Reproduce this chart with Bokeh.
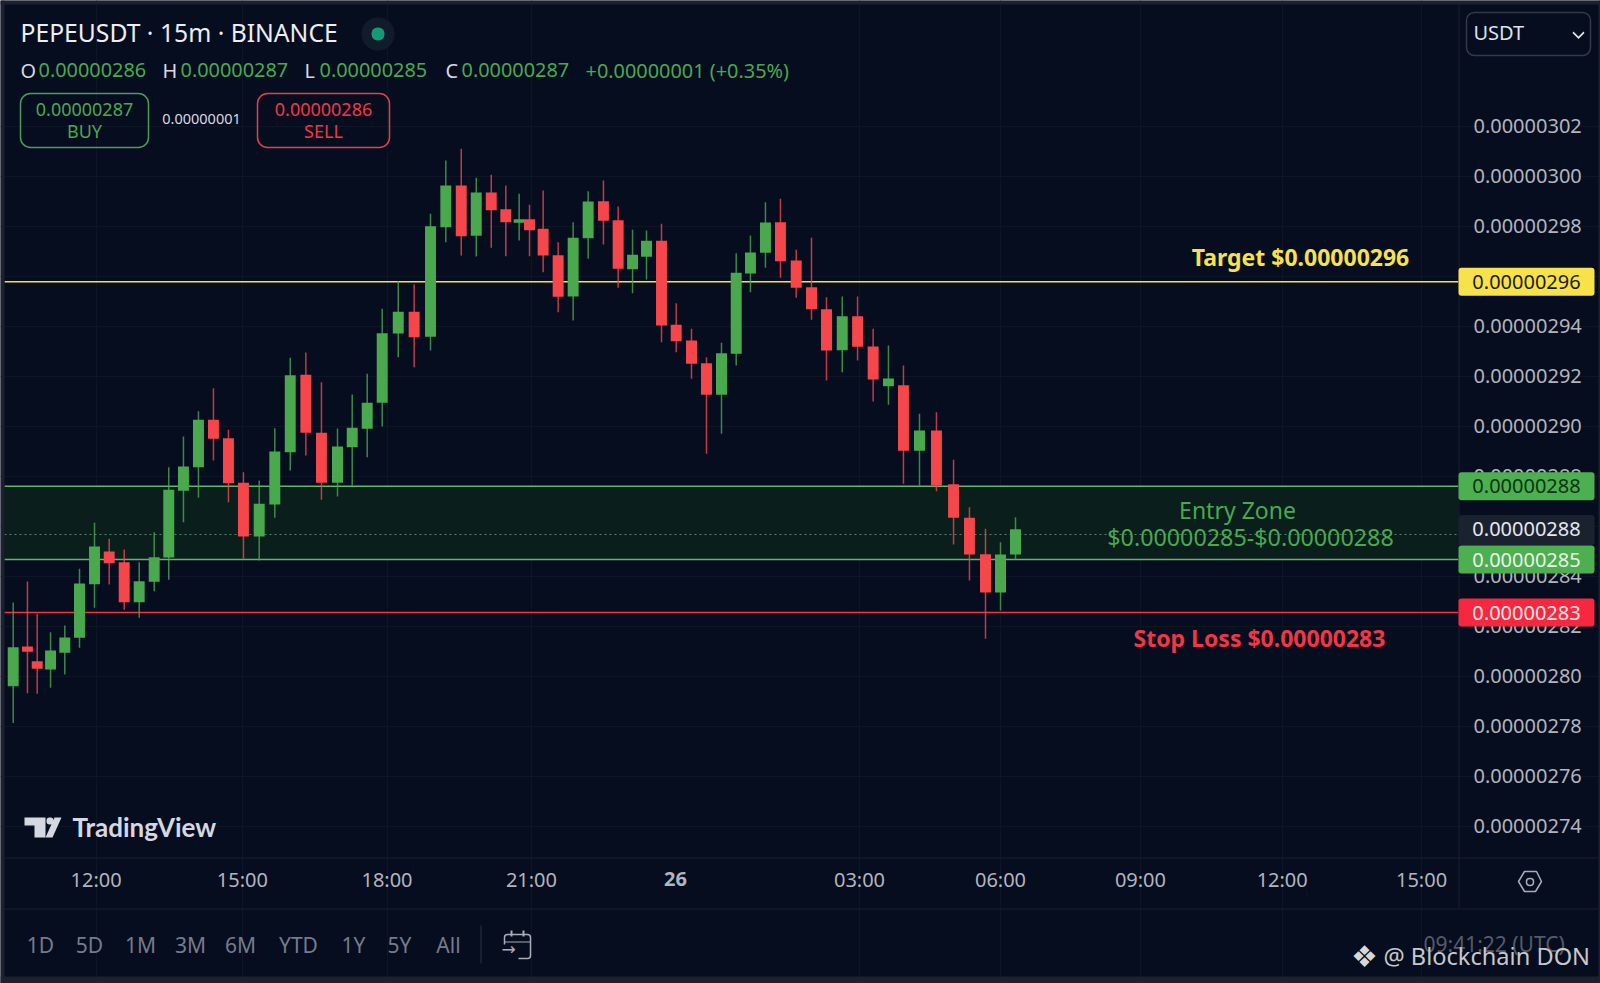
from bokeh.plotting import figure
from bokeh.models import ColumnDataSource, Range1d, FixedTicker, Label, BoxAnnotation, PolyAnnotation
from bokeh.embed import file_html
from bokeh.resources import INLINE

# Prices are in units of 0.00000001 USDT
bar_pos = [0.58,1.53,2.18,3.07,4.02,5,6,6.98,7.98,8.98,9.98,10.95,11.93,12.93,13.93,14.93,15.93,16.98,18.02,19.05,20.09,21.13,22.2,23.18,24.18,25.18,26.25,27.31,28.4,29.42,30.45,31.45,32.45,33.42,34.31,35,35.91,36.91,37.91,38.91,39.93,40.91,41.87,42.8,43.8,44.78,45.8,46.8,47.8,48.78,49.73,50.73,51.73,52.78,53.8,54.8,55.85,56.87,57.91,58.93,59.93,61,62.13,63.27,64.33,65.4,66.4,67.4]
opens = [279.59,281.18,280.59,280.26,280.93,281.53,283.67,284.98,284.55,282.95,283.77,284.74,287.41,288.35,290.25,289.51,287.73,285.58,286.86,288.95,292.05,289.73,287.73,289.15,289.89,290.93,293.70,294.57,293.57,297.95,299.62,297.61,299.34,298.67,298.13,298.27,297.89,296.83,295.18,297.51,298.99,298.23,296.27,296.77,297.41,294.05,293.42,292.51,291.25,292.89,296.10,296.93,298.15,296.62,295.55,294.67,293.03,294.39,293.18,291.59,291.63,289.01,289.82,287.67,286.33,284.87,283.34,284.86]
highs = [282.94,283.78,282.49,281.75,282.02,284.29,286.13,285.49,285.06,284.55,285.75,288.35,289.58,290.59,291.51,289.85,288.15,287.82,289.91,292.73,292.94,291.75,289.90,291.26,292.09,294.69,295.79,295.66,298.49,300.62,301.09,299.93,300.05,299.62,299.29,298.85,299.42,297.35,298.15,299.39,299.82,298.78,297.85,297.82,298.09,294.91,293.89,292.75,293.33,296.91,297.62,298.95,299.09,297.05,297.53,295.15,295.18,295.18,293.89,293.22,292.42,290.49,290.55,288.65,286.75,285.89,285.35,286.35]
lows = [278.12,279.31,279.29,279.53,280.06,281.13,282.73,283.66,282.65,282.33,283.39,283.85,286.15,287.13,288.62,286.95,284.69,284.62,286.33,288.22,288.82,287.05,287.18,287.62,288.75,289.98,292.75,292.35,293.02,297.35,296.82,296.78,297.13,296.79,297.42,296.79,296.15,294.55,294.22,296.69,297.26,295.53,295.31,295.86,293.35,292.95,291.89,288.89,289.69,292.42,295.35,296.33,295.93,295.13,294.25,291.82,292.15,292.62,290.98,290.85,287.69,287.62,287.39,285.26,283.82,281.49,282.62,284.65]
closes = [281.15,280.97,280.29,281.02,281.54,283.70,285.18,284.51,282.95,283.79,284.75,287.45,288.38,290.25,289.49,287.71,285.58,286.89,288.98,292.03,289.73,287.73,289.18,289.93,290.93,293.71,294.57,293.55,297.99,299.62,297.59,299.34,298.63,298.15,298.27,297.83,296.82,295.17,297.53,298.98,298.21,296.29,296.85,297.41,294.02,293.39,292.49,291.25,292.91,296.13,296.94,298.14,296.59,295.53,294.67,293.02,294.39,293.17,291.86,291.90,289.01,289.82,287.62,286.33,284.86,283.34,284.86,285.87]

price_ticks = [274,276,278,280,282,284,286,288,290,292,294,296,298,300,302]
price_labels = ["0.00000274","0.00000276","0.00000278","0.00000280","0.00000282","0.00000284","0.00000286","0.00000288","0.00000290","0.00000292","0.00000294","0.00000296","0.00000298","0.00000300","0.00000302"]
time_ticks = [6.11,15.86,25.5,35.13,57,66.4,75.73,85.18,94.47]
time_labels = ["12:00","15:00","18:00","21:00","03:00","06:00","09:00","12:00","15:00"]
day_tick = 44.73
day_label = "26"
range_tabs = ["1D","5D","1M","3M","6M","YTD","1Y","5Y","All"]
tab_centers = [40,89,140,190,240,298,353,399,448]

target = 295.77
entry_high = 287.59
entry_low = 284.66
stop = 282.54
last_price = 285.66

W, H = 1600, 983
CHART_RIGHT = 96.93      # price scale starts here (bars)
CHART_BOTTOM = 272.74    # time scale starts here (price)
CHART_TOP = 306.86
BG = "#060d1f"
GREEN = "#4aa84f"
RED = "#f4464b"
YELLOW = "#f7e24b"
GREY = "#b2b5be"
EDGE = "#1c2130"
FONT = "Noto Sans"

p = figure(width=W, height=H, output_backend="svg", toolbar_location=None,
           x_range=Range1d(-0.2667, 106.4), y_range=Range1d(267.7, 307.02),
           y_axis_location="right", min_border=0,
           background_fill_color=BG, border_fill_color=BG, outline_line_color=None,
           styles={"position": "absolute", "left": "0px", "top": "0px"})

yax = p.yaxis[0]
yax.fixed_location = CHART_RIGHT
yax.ticker = FixedTicker(ticks=price_ticks)
yax.major_label_overrides = dict(zip(price_ticks, price_labels))
xax = p.xaxis[0]
xax.fixed_location = CHART_BOTTOM
xax.ticker = FixedTicker(ticks=time_ticks)
xax.major_label_overrides = dict(zip(time_ticks, time_labels))
for ax, standoff in ((yax, 9), (xax, 2)):
    ax.axis_line_color = None
    ax.major_tick_line_color = None
    ax.minor_tick_line_color = None
    ax.major_label_text_color = GREY
    ax.major_label_text_font = FONT
    ax.major_label_text_font_size = "20px"
    ax.major_label_standoff = standoff
p.xgrid.grid_line_color = "#0d1527"
p.ygrid.grid_line_color = "#0d1527"
p.xgrid.bounds = (CHART_BOTTOM, CHART_TOP)
p.ygrid.bounds = (0, CHART_RIGHT)

# entry zone and levels
p.quad(left=[0], right=[CHART_RIGHT], top=[entry_high], bottom=[entry_low], fill_color="#0a1f1c", line_color=None)


def level_line(level, **kw):
    p.segment(x0=[0], x1=[CHART_RIGHT], y0=[level], y1=[level], **kw)


level_line(target, line_color=YELLOW, line_width=1.6)
level_line(entry_high, line_color="#62b765", line_width=1.5)
level_line(entry_low, line_color="#62b765", line_width=1.5)
level_line(stop, line_color="#f23645", line_width=1.6)
level_line(last_price, line_color="#58806a", line_width=1, line_dash="2 3")

colors = [GREEN if c >= o else RED for o, c in zip(opens, closes)]
src = ColumnDataSource(dict(x=bar_pos, o=opens, h=highs, l=lows, c=closes, color=colors,
                            top=[max(a, b) for a, b in zip(opens, closes)],
                            bottom=[min(a, b) for a, b in zip(opens, closes)]))
p.segment(x0="x", x1="x", y0="h", y1="l", source=src, line_color="color", line_width=1.5, line_alpha=0.8)
p.vbar(x="x", width=0.73, top="top", bottom="bottom", source=src, fill_color="color", line_color=None)


def box(left, top, right, bottom, fill=None, line=None, width=1.5, radius=0):
    p.add_layout(BoxAnnotation(left=left, right=right, top=top, bottom=bottom,
                               left_units="canvas", right_units="canvas",
                               top_units="canvas", bottom_units="canvas",
                               fill_color=fill, fill_alpha=1 if fill else 0,
                               line_color=line, line_alpha=1 if line else 0, line_width=width,
                               border_radius=radius))


def badge(top, bottom, fill):
    p.add_layout(BoxAnnotation(left=1458, right=1594, top=top, bottom=bottom,
                               left_units="canvas", right_units="canvas",
                               fill_color=fill, fill_alpha=1, line_alpha=0, border_radius=3))


def text(x, y, s, color=GREY, size=20, align="left", style="normal", font=FONT, data_y=False, data_x=False):
    p.add_layout(Label(x=x, y=y if data_y else y - 1.5, text=s,
                       x_units="data" if data_x else "canvas",
                       y_units="data" if data_y else "canvas",
                       text_color=color, text_font_size=f"{size}px", text_font=font,
                       text_font_style=style, text_align=align, text_baseline="middle"))


def poly(xs, ys, fill=None, line=None, width=1.5):
    p.add_layout(PolyAnnotation(xs=xs, ys=ys, xs_units="canvas", ys_units="canvas",
                                fill_color=fill, fill_alpha=1 if fill else 0,
                                line_color=line, line_alpha=1 if line else 0, line_width=width))


# chrome strips and separators
box(0, 0, 4, H, fill=EDGE)
box(0, 0, W, 4, fill=EDGE)
box(0, 976, W, H, fill=EDGE)
box(1598, 0, W, H, fill=EDGE)
box(4, 857, 1598, 858, fill=EDGE)
box(4, 908, 1598, 909, fill=EDGE)
box(1458, 4, 1459, 908, fill=EDGE)

# price badges
badge(target + 0.56, target - 0.56, YELLOW)
badge(entry_high + 0.56, entry_high - 0.56, "#4caf50")
badge(286.44, 285.24, "#1a222f")
badge(entry_low + 0.56, entry_low - 0.56, "#4caf50")
badge(stop + 0.56, stop - 0.56, "#f5283f")
text(1526, target, "0.00000296", color="#1b1b10", align="center", data_y=True)
text(1526, entry_high, "0.00000288", color="#0f3315", align="center", data_y=True)
text(1526, 285.9, "0.00000288", color="#e6e8ee", align="center", data_y=True)
text(1526, entry_low, "0.00000285", color="#eef5ea", align="center", data_y=True)
text(1526, stop, "0.00000283", color="#fbe8ea", align="center", data_y=True)

# level captions
text(1300, 258, "Target $0.00000296", color=YELLOW, size=23, align="center", style="bold")
text(1237, 511, "Entry Zone", color=GREEN, size=23, align="center")
text(1250, 538, "$0.00000285-$0.00000288", color=GREEN, size=23.3, align="center")
text(1259, 639, "Stop Loss $0.00000283", color="#f23645", size=23, align="center", style="bold")

# header
text(20, 33, "PEPEUSDT · 15m · BINANCE", color="#eceef2", size=24.7)
box(361, 17, 394, 50, fill="#111b2b", radius=16)
box(371, 27, 384, 40, fill="#149a74", radius=6)
for x, s, c in ((20, "O", "#d8dae0"), (38, "0.00000286", GREEN), (162, "H", "#d8dae0"), (180, "0.00000287", GREEN),
                (304, "L", "#d8dae0"), (319, "0.00000285", GREEN), (445, "C", "#d8dae0"), (461, "0.00000287", GREEN),
                (585, "+0.00000001 (+0.35%)", GREEN)):
    text(x, 71, s, color=c, size=19.9)
box(20, 93, 148, 147, line="#4d9a5a", radius=10)
text(84, 110, "0.00000287", color=GREEN, size=18, align="center")
text(84, 132, "BUY", color=GREEN, size=18, align="center")
text(201, 120, "0.00000001", color="#d8dae0", size=14.5, align="center")
box(257, 93, 389, 147, line="#e5404a", radius=10)
text(323, 110, "0.00000286", color="#f23645", size=18, align="center")
text(323, 132, "SELL", color="#f23645", size=18, align="center")

# currency dropdown
box(1466, 12, 1590, 55, line="#343a4b", radius=8)
text(1473, 33, "USDT", color="#dfe2e8", size=20)
poly([1573, 1578, 1583, 1584, 1578, 1572], [31, 36, 31, 32.5, 38.5, 32.5], fill="#dfe2e8")

# watermark logo
poly([24, 45, 45, 34, 34, 24], [817, 817, 837, 837, 825, 825], fill="#d5d8e0")
box(46, 817, 53, 824, fill="#d5d8e0", radius=3)
poly([54, 61, 52, 45], [817, 817, 837, 837], fill="#d5d8e0")
text(72, 828, "TradingView", color="#d5d8e0", size=26, style="bold", font="Lato")

# day tick, tabs, icons
text(day_tick, 880, day_label, color=GREY, size=20, align="center", style="bold", data_x=True)
for cx, s in zip(tab_centers, range_tabs):
    text(cx, 946, s, color="#767b8b", size=21, align="center")
box(480, 925, 481, 963, fill="#2c3242")
box(504, 934, 530, 958, line="#a9adb8", radius=3)
box(504, 941, 530, 942, fill="#a9adb8")
box(510, 930, 512, 936, fill="#a9adb8")
box(522, 930, 524, 936, fill="#a9adb8")
box(498, 944, 518, 960, fill=BG)
text(508, 950, "→", color="#a9adb8", size=17, align="center", font="DejaVu Sans")
poly([1518, 1524, 1536, 1541, 1535, 1524], [881, 871, 871, 881, 891, 891], line="#a9adb8")
box(1526, 878, 1533, 885, line="#a9adb8", radius=3)

# footer stamp
text(1423, 945, "09:41:22 (UTC)", color="#565b69", size=21)
text(1364, 957, "❖", color="#d8d8d8", size=30, align="center", font="DejaVu Sans")
text(1383, 957, "@ Blockchain DON", color="#c6c8cc", size=23.6)

open("out.html", "w").write(file_html(p, INLINE))
